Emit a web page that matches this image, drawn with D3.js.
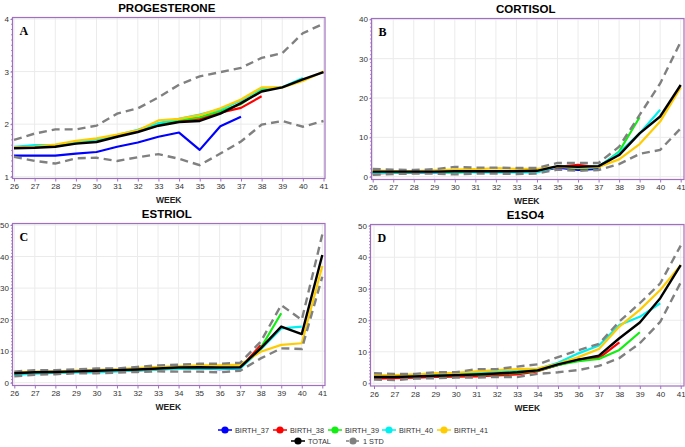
<!DOCTYPE html>
<html><head><meta charset="utf-8">
<script src="https://cdn.jsdelivr.net/npm/d3@7"></script>
<style>body{margin:0;background:#fff}svg{display:block}</style>
</head><body>
<svg id="c" width="685" height="447"></svg>
<script>
const weeks = d3.range(26, 42);
const seriesNames = ["BIRTH_37","BIRTH_38","BIRTH_39","BIRTH_40","BIRTH_41","TOTAL","1 STD"];
const seriesColors = ["#0000ff","#ff0000","#11ee11","#00f0f0","#ffcc00","#000000","#808080"];

// PROGESTERONE (A), weeks 26..41
const progB37 = [1.40,1.40,1.40,1.44,1.47,1.57,1.65,1.76,1.84,1.51,1.96,2.14];
const progB38 = [1.55,1.56,1.58,1.64,1.68,1.77,1.86,1.98,2.06,2.10,2.22,2.31,2.53];
const progB39 = [1.56,1.57,1.59,1.65,1.70,1.78,1.87,2.00,2.08,2.13,2.25,2.38,2.65,2.70];
const progB40 = [1.57,1.60,1.60,1.66,1.70,1.79,1.89,2.02,2.10,2.18,2.28,2.45,2.68,2.70,2.88];
const progB41 = [1.56,1.57,1.61,1.68,1.73,1.80,1.88,2.07,2.10,2.17,2.30,2.47,2.70,2.70,2.82,3.00];
const progTotal = [1.54,1.55,1.57,1.63,1.66,1.76,1.85,1.97,2.04,2.06,2.20,2.40,2.62,2.70,2.85,2.99];
const progUp = [1.70,1.82,1.90,1.90,1.97,2.20,2.30,2.51,2.75,2.91,2.99,3.07,3.26,3.35,3.73,3.91];
const progLo = [1.38,1.30,1.25,1.35,1.36,1.30,1.37,1.43,1.34,1.22,1.44,1.67,1.99,2.06,1.95,2.06];

// CORTISOL (B)
const cortB37 = [1.0,1.0,1.1,1.1,1.2,1.2,1.3,1.2,1.3,2.3,1.7,2.0];
const cortB38 = [0.8,1.0,1.1,1.2,1.3,1.3,1.4,1.3,1.4,2.5,3.0,2.4,5.8];
const cortB39 = [1.2,1.1,1.2,1.2,1.0,1.3,1.3,1.2,1.4,2.6,2.2,2.4,6.4,15.1];
const cortB40 = [0.9,1.0,1.1,1.1,1.2,1.1,1.1,1.1,1.1,2.6,2.4,2.6,6.1,11.0,17.0];
const cortB41 = [1.6,1.4,1.4,1.6,1.8,1.9,2.2,2.0,2.0,2.5,2.3,2.5,4.4,8.3,14.0,22.7];
const cortTotal = [1.3,1.3,1.3,1.3,1.4,1.4,1.4,1.4,1.5,2.7,2.5,2.7,5.5,11.0,15.3,23.3];
const cortUp = [2.0,1.8,1.7,1.9,2.5,2.3,2.3,2.2,2.2,3.5,3.5,3.5,7.6,15.7,23.7,34.3];
const cortLo = [0.5,0.7,0.8,0.8,0.6,0.8,0.8,0.7,0.8,1.8,1.5,1.7,3.2,5.8,6.8,12.3];

// ESTRIOL (C)
const estrB37 = [3.0,3.3,3.5,3.7,4.0,4.1,4.3,4.4,4.6,4.5,4.3,4.5];
const estrB38 = [2.8,3.2,3.3,3.4,3.6,3.8,3.9,4.2,4.5,4.6,4.6,4.7,11.9];
const estrB39 = [2.8,3.1,3.2,3.4,3.6,3.8,4.0,4.3,4.6,4.6,4.6,4.8,11.0,22.0];
const estrB40 = [2.5,2.9,3.1,3.3,3.3,3.6,3.9,4.2,4.4,4.5,4.4,4.5,10.5,17.2,17.8];
const estrB41 = [3.3,3.5,3.6,3.8,4.0,4.3,4.6,5.0,5.2,5.5,5.5,5.7,9.8,12.0,12.5,37.0];
const estrTotal = [3.0,3.3,3.4,3.6,3.8,4.0,4.2,4.5,4.8,4.9,4.8,4.9,10.9,17.8,15.4,40.5];
const estrUp = [3.5,4.0,4.0,4.2,4.5,4.5,5.0,5.5,5.7,6.0,6.0,6.3,13.0,24.6,19.9,47.0];
const estrLo = [2.0,2.5,2.7,3.0,3.0,3.2,3.4,3.6,3.5,3.5,3.3,3.8,7.7,10.9,10.7,33.6];

// E1SO4 (D)
const e1B37 = [2.0,2.0,2.1,2.3,2.5,2.7,3.0,3.4,4.0,5.8,7.5,8.2];
const e1B38 = [1.5,1.6,1.8,2.0,2.1,2.2,2.5,2.8,3.8,5.8,7.5,8.0,13.0];
const e1B39 = [2.2,2.2,2.3,2.5,2.6,2.7,3.0,3.3,4.0,5.8,7.0,7.7,10.6,16.2];
const e1B40 = [2.3,2.3,2.5,2.8,3.0,3.4,3.8,4.1,4.5,6.5,9.5,12.0,18.5,21.1,25.4];
const e1B41 = [2.5,2.6,2.8,3.2,3.3,3.8,4.2,4.5,4.7,6.2,8.3,10.9,18.0,23.3,29.6,37.5];
const e1Total = [2.0,2.0,2.2,2.4,2.6,2.8,3.1,3.5,4.1,6.0,7.5,8.8,14.3,19.3,27.0,37.5];
const e1Up = [3.2,3.0,3.0,3.5,3.5,4.5,4.5,5.3,6.0,8.3,10.5,12.5,19.6,25.4,31.7,43.7];
const e1Lo = [1.2,1.0,1.5,1.6,1.8,1.8,2.0,2.0,3.0,3.5,4.2,5.5,8.0,12.7,19.5,32.0];

const panels = [
  {title:"PROGESTERONE", letter:"A", yTicks:[1,2,3,4], yMinor:0.1, yDom:[1,4],
   births:[progB37,progB38,progB39,progB40,progB41], total:progTotal, up:progUp, lo:progLo,
   fx0:12.5, fx1:325, fy0:17.5, fy1:178.5, x0:14, x1:323.5, y0:176.7, y1:19},
  {title:"CORTISOL", letter:"B", yTicks:[0,10,20,30,40], yMinor:1, yDom:[0,40],
   births:[cortB37,cortB38,cortB39,cortB40,cortB41], total:cortTotal, up:cortUp, lo:cortLo,
   fx0:371.5, fx1:684, fy0:18.5, fy1:179.5, x0:372.7, x1:680.7, y0:176.7, y1:19.3},
  {title:"ESTRIOL", letter:"C", yTicks:[0,10,20,30,40,50], yMinor:1, yDom:[0,50],
   births:[estrB37,estrB38,estrB39,estrB40,estrB41], total:estrTotal, up:estrUp, lo:estrLo,
   fx0:12.5, fx1:325, fy0:223.5, fy1:385.5, x0:14.3, x1:322.3, y0:382.7, y1:225},
  {title:"E1SO4", letter:"D", yTicks:[0,10,20,30,40,50], yMinor:1, yDom:[0,50],
   births:[e1B37,e1B38,e1B39,e1B40,e1B41], total:e1Total, up:e1Up, lo:e1Lo,
   fx0:370.5, fx1:684, fy0:224.5, fy1:386, x0:374, x1:680.7, y0:383.3, y1:225.7}
];

const svg = d3.select("#c");
const purple = "#a070c0";
const font = "Liberation Sans, Arial, sans-serif";

panels.forEach(p => {
  const x = d3.scaleLinear().domain([26,41]).range([p.x0,p.x1]);
  const y = d3.scaleLinear().domain(p.yDom).range([p.y0,p.y1]);
  const g = svg.append("g");
  const cx = (p.fx0+p.fx1)/2;
  // title
  g.append("text").attr("x", cx - 2).attr("y", p.fy0 - 6).attr("text-anchor","middle")
    .attr("font-family",font).attr("font-weight","bold").attr("font-size",11.5).attr("fill","#000").text(p.title);
  // grid
  g.append("g").selectAll("line").data(weeks).join("line")
    .attr("x1",d=>x(d)).attr("x2",d=>x(d)).attr("y1",p.fy0).attr("y2",p.fy1)
    .attr("stroke","#ebebeb").attr("stroke-width",1);
  g.append("g").selectAll("line").data(p.yTicks).join("line")
    .attr("x1",p.fx0).attr("x2",p.fx1).attr("y1",d=>y(d)).attr("y2",d=>y(d))
    .attr("stroke","#ebebeb").attr("stroke-width",1);
  // frame
  g.append("rect").attr("x",p.fx0).attr("y",p.fy0).attr("width",p.fx1-p.fx0).attr("height",p.fy1-p.fy0)
    .attr("fill","none").attr("stroke",purple).attr("stroke-width",1.2);
  // x axis
  const xa = g.append("g").attr("transform",`translate(0,${p.fy1})`)
    .call(d3.axisBottom(x).tickValues(weeks).tickFormat(d3.format("d")).tickSize(3).tickPadding(2));
  xa.select(".domain").remove();
  xa.selectAll("line").attr("stroke",purple);
  xa.selectAll("text").attr("font-family",font).attr("font-size",8).attr("fill","#333");
  // y axis
  const ya = g.append("g").attr("transform",`translate(${p.fx0},0)`)
    .call(d3.axisLeft(y).tickValues(p.yTicks).tickFormat(d3.format("d")).tickSize(2).tickPadding(1.5));
  ya.select(".domain").remove();
  ya.selectAll("line").attr("stroke",purple);
  ya.selectAll("text").attr("font-family",font).attr("font-size",8).attr("fill","#333");
  const minors = d3.range(p.yDom[0], p.yDom[1]+1e-9, p.yMinor);
  g.append("g").selectAll("line").data(minors).join("line")
    .attr("x1",p.fx0-1.5).attr("x2",p.fx0).attr("y1",d=>y(d)).attr("y2",d=>y(d))
    .attr("stroke",purple).attr("stroke-width",0.8);
  // week label
  g.append("text").attr("x", x(33.5)).attr("y", p.fy1 + 24.5).attr("text-anchor","middle")
    .attr("font-family",font).attr("font-weight","bold").attr("font-size",8.5).attr("fill","#222").text("WEEK");
  // letter
  g.append("text").attr("x", p.fx0 + 7).attr("y", p.fy0 + 17)
    .attr("font-family","Liberation Serif, Times New Roman, serif").attr("font-weight","bold").attr("font-size",12).text(p.letter);
  // lines
  const line = d3.line().x((d,i)=>x(weeks[i])).y(d=>y(d));
  p.births.forEach((s,i) => {
    g.append("path").attr("d", line(s)).attr("fill","none").attr("stroke",seriesColors[i])
      .attr("stroke-width",2.2).attr("stroke-linejoin","round");
  });
  [p.up,p.lo].forEach(s => {
    g.append("path").attr("d", line(s)).attr("fill","none").attr("stroke",seriesColors[6])
      .attr("stroke-width",2.4).attr("stroke-dasharray","8,5");
  });
  g.append("path").attr("d", line(p.total)).attr("fill","none").attr("stroke",seriesColors[5])
    .attr("stroke-width",2.4).attr("stroke-linejoin","round");
});

// legend
const legendItems = [
  {i:0,x:218,y:430},{i:1,x:273,y:430},{i:2,x:328,y:430},{i:3,x:382,y:430},{i:4,x:437,y:430},
  {i:5,x:291,y:441},{i:6,x:346,y:441}
];
const lg = svg.append("g");
legendItems.forEach(it => {
  const c = seriesColors[it.i];
  lg.append("line").attr("x1",it.x).attr("x2",it.x+14).attr("y1",it.y).attr("y2",it.y)
    .attr("stroke",c).attr("stroke-width",1.5).attr("stroke-dasharray", it.i===6?"3,2":null);
  lg.append("circle").attr("cx",it.x+7).attr("cy",it.y).attr("r",3.6).attr("fill",c);
  lg.append("text").attr("x",it.x+17).attr("y",it.y+2.8).attr("font-family",font)
    .attr("font-size",7.3).attr("fill","#333").text(seriesNames[it.i]);
});
</script>
</body></html>
